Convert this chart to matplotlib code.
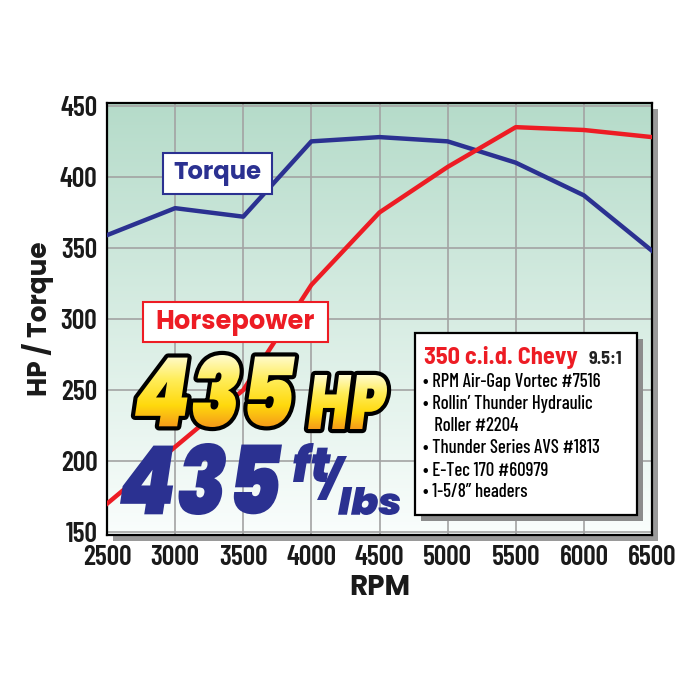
import numpy as np
import matplotlib
matplotlib.use('Agg')
import matplotlib.pyplot as plt
from matplotlib import font_manager, patheffects
from matplotlib.font_manager import FontProperties
from matplotlib.textpath import TextPath
from matplotlib.transforms import Affine2D, TransformedPath
from matplotlib.patches import Rectangle

rpm = [2500, 3000, 3500, 4000, 4500, 5000, 5500, 6000, 6500]
torque = [359, 378, 372, 425, 428, 425, 410, 387, 348]
horsepower = [170, 210, 250, 324, 375, 407, 435, 433, 428]

x_ticks = [2500, 3000, 3500, 4000, 4500, 5000, 5500, 6000, 6500]
y_ticks = [150, 200, 250, 300, 350, 400, 450]

engine = '350 c.i.d. Chevy'
ratio = '9.5:1'
parts = ['\u2022 RPM Air-Gap Vortec #7516',
         '\u2022 Rollin\u2019 Thunder Hydraulic',
         '   Roller #2204',
         '\u2022 Thunder Series AVS #1813',
         '\u2022 E-Tec 170 #60979',
         '\u2022 1-5/8\u201d headers']

NAVY = '#2b3191'
RED = '#ed1c24'
INK = '#1a1a1a'


def pick(names, weight=400, style='normal'):
    for n in names:
        for f in font_manager.fontManager.ttflist:
            if f.name == n and f.weight == weight and f.style == style:
                return n
    return 'DejaVu Sans'


COND_B = pick(['Barlow Condensed', 'Asap Condensed', 'Roboto Condensed', 'Archivo Narrow'], 600)
COND_M = pick(['Barlow Condensed', 'Asap Condensed', 'Roboto Condensed', 'Archivo Narrow'], 500)
SEMI_B = pick(['Barlow Semi Condensed', 'Barlow', 'Asap Condensed'], 700)
GEO = pick(['Montserrat', 'Poppins'], 700)
BLACK_IT = pick(['Montserrat', 'Poppins'], 900, 'italic')


class Squeeze(patheffects.AbstractPathEffect):
    """Draw text narrower; optional outline and vertical gradient fill."""

    def __init__(self, sx, outline=None, gradient=None):
        super().__init__()
        self.sx, self.outline, self.gradient = sx, outline, gradient

    def draw_path(self, renderer, gc, tpath, affine, rgbFace=None):
        aff = Affine2D().scale(self.sx, 1) + affine
        if self.outline:
            g = renderer.new_gc()
            g.copy_properties(gc)
            g.set_linewidth(self.outline)
            g.set_foreground('black')
            g.set_joinstyle('round')
            renderer.draw_path(g, tpath, aff, (0, 0, 0, 1))
            g.restore()
        if self.gradient is None:
            renderer.draw_path(gc, tpath, aff, rgbFace)
            return
        e = aff.transform_path(tpath).get_extents()
        h, w = int(e.height) + 3, int(e.width) + 3
        stops, cols = self.gradient
        tt = np.linspace(1, 0, h)   # image rows run bottom to top here
        rgb = np.stack([np.interp(tt, stops, cols[:, i]) for i in range(3)], axis=1)
        img = np.ones((h, w, 4))
        img[:, :, :3] = rgb[:, None, :]
        g = renderer.new_gc()
        g.copy_properties(gc)
        g.set_clip_path(TransformedPath(tpath, aff))
        renderer.draw_image(g, e.x0 - 1, e.y0 - 1, (img * 255).astype(np.uint8))
        g.restore()


fig = plt.figure(figsize=(7, 7), dpi=100)
W = 700.0

x0, x1, ytop, ybot = 107, 652, 103, 535
ax = fig.add_axes([x0 / W, 1 - ybot / W, (x1 - x0) / W, (ybot - ytop) / W])
fig.patches.append(Rectangle(((x0 + 6) / W, 1 - (ybot + 6) / W), (x1 - x0) / W, (ybot - ytop) / W,
                             transform=fig.transFigure, fc='#9a9a9a', ec='none', zorder=-1))

t = np.linspace(0, 1, 256)[:, None]
top = np.array([0.71, 0.86, 0.79])
bot = np.array([0.98, 0.995, 0.99])
bg = top[None, None, :] * (1 - t[:, :, None]) + bot[None, None, :] * t[:, :, None]
ax.imshow(bg, extent=(2500, 6500, 148, 452), aspect='auto', origin='upper', zorder=0)

ax.plot(rpm, torque, color=NAVY, lw=3.2, zorder=3)
ax.plot(rpm, horsepower, color=RED, lw=3.2, zorder=3)

ax.set_xlim(2500, 6500)
ax.set_ylim(148, 452)
ax.set_xticks(x_ticks)
ax.set_yticks(y_ticks)
ax.set_axisbelow(True)
ax.grid(True, color='#a3a3a3', lw=1.2)
ax.tick_params(length=0, pad=7, labelsize=20, labelcolor=INK)
for lab in ax.get_xticklabels() + ax.get_yticklabels():
    lab.set_fontfamily(COND_B)
    lab.set_fontweight(600)
for s in ax.spines.values():
    s.set_linewidth(1.6)
    s.set_color('black')
ax.set_xlabel('RPM', fontsize=20, fontweight='bold', family=GEO, labelpad=3, color=INK)
ax.set_ylabel('HP / Torque', fontsize=19, fontweight='bold', family=GEO, labelpad=4, color=INK)

ov = fig.add_axes([0, 0, 1, 1], zorder=5)
ov.patch.set_alpha(0)
ov.axis('off')

big = FontProperties(family=BLACK_IT, weight=900, style='italic')


def badge(s, box, color, **kw):
    # size the text so its ink fills the given pixel box
    bx0, by0, bx1, by1 = box
    e = TextPath((0, 0), s, size=100, prop=big).get_extents()
    k = (by1 - by0) / e.height
    sx = (bx1 - bx0) / (e.width * k)
    ov.text(bx0 - e.x0 * k * sx, by1 + e.y0 * k, s, fontproperties=big, fontsize=72 * k,
            color=color, ha='left', va='baseline', zorder=7,
            path_effects=[Squeeze(sx, **kw)])


stops = np.array([0.0, 0.35, 0.7, 1.0])
cols = np.array([[1.0, 0.99, 0.85], [1.0, 0.93, 0.35], [1.0, 0.85, 0.05], [0.96, 0.6, 0.1]])
badge('435', (135, 355, 295, 427), '#ffd200', outline=6, gradient=(stops, cols))
badge('HP', (308, 375, 387, 429), '#ffd200', outline=6, gradient=(stops, cols))

badge('435', (120, 443, 282, 515), NAVY)
badge('ft', (293, 443, 331, 482), NAVY)
badge('/', (317, 456, 347, 500), NAVY)
badge('lbs', (338, 487, 400, 515), NAVY)

ov.add_patch(Rectangle((163, 153), 109, 41, fc='white', ec=NAVY, lw=1.5, zorder=6))
ov.text(217.5, 174, 'Torque', color=NAVY, fontsize=17.5, fontweight='bold', family=GEO,
        ha='center', va='center', zorder=7)
ov.add_patch(Rectangle((143, 302), 185, 40, fc='white', ec=RED, lw=1.5, zorder=6))
ov.text(235.5, 322, 'Horsepower', color=RED, fontsize=18.5, fontweight='bold', family=GEO,
        ha='center', va='center', zorder=7)

ov.add_patch(Rectangle((421, 339), 222, 182, fc='#8c8c8c', ec='none', zorder=6))
ov.add_patch(Rectangle((415, 333), 222, 182, fc='white', ec='black', lw=1.6, zorder=6))
ov.text(424, 364, engine, color=RED, fontsize=17.5, fontweight=700, family=SEMI_B,
        ha='left', va='baseline', zorder=7)
ov.text(589, 364, ratio, color='#222222', fontsize=13, fontweight=700, family=SEMI_B,
        ha='left', va='baseline', zorder=7)
baselines = [387, 409, 431, 453, 476, 497]
for s, yb in zip(parts, baselines):
    ov.text(423, yb, s, color='black', fontsize=13.5, fontweight=500, family=COND_M,
            ha='left', va='baseline', zorder=7)

ov.set_xlim(0, 700)
ov.set_ylim(700, 0)

fig.savefig('out.png', dpi=100)
